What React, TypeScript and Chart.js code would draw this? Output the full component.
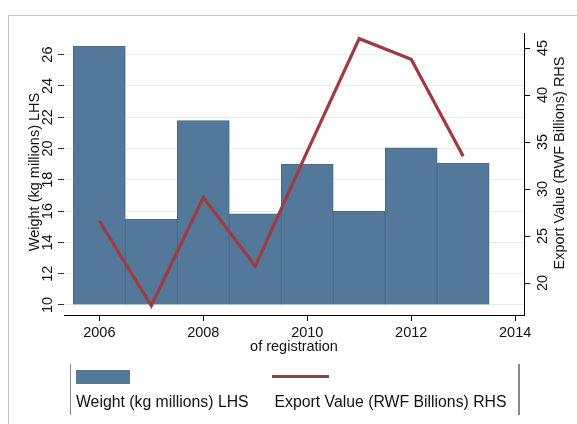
import React, { useEffect, useRef } from "react";
import { Chart, registerables } from "chart.js";

Chart.register(...registerables);

// ---------- data ----------
const YEARS = [2006, 2007, 2008, 2009, 2010, 2011, 2012, 2013];
const WEIGHT = [26.55, 15.47, 21.78, 15.83, 19.0, 16.0, 20.05, 19.05];
const EXPORT_VALUE = [26.6, 17.6, 29.1, 21.8, 34.0, 46.0, 43.8, 33.5];
const X_TICKS = [2006, 2008, 2010, 2012, 2014];
const LEFT_TICKS = [10, 12, 14, 16, 18, 20, 22, 24, 26];
const RIGHT_TICKS = [20, 25, 30, 35, 40, 45];
const BAR_BASE = 10;
const WEIGHT_LABEL = "Weight (kg millions) LHS";
const VALUE_LABEL = "Export Value (RWF Billions) RHS";
const X_TITLE = "of registration";

// ---------- styles ----------
const FONT = "'Liberation Sans', Arial, sans-serif";
const BAR_COLOR = "#537899";
const BAR_EDGE = "#476c8f";
const LINE_COLOR = "#9e3a44";
const TEXT_COLOR = "#111111";
const W = 577;
const H = 424;

const axisTitlesPlugin = {
  id: "axisTitles",
  afterDraw(chart: any) {
    const { ctx, chartArea } = chart;
    const { left, right, top, bottom } = chartArea;
    const midY = (top + bottom) / 2;
    ctx.save();
    ctx.fillStyle = TEXT_COLOR;
    ctx.font = `14.5px ${FONT}`;
    ctx.textAlign = "center";
    ctx.textBaseline = "middle";
    ctx.fillText(X_TITLE, (left + right) / 2, bottom + 31.5);
    ctx.save();
    ctx.translate(left - 29, midY - 2);
    ctx.rotate(-Math.PI / 2);
    ctx.fillText(WEIGHT_LABEL, 0, 0);
    ctx.restore();
    ctx.save();
    ctx.translate(right + 36, midY - 11);
    ctx.rotate(-Math.PI / 2);
    ctx.fillText(VALUE_LABEL, 0, 0);
    ctx.restore();
    ctx.restore();
  },
};

export default function App() {
  const canvasRef = useRef<HTMLCanvasElement | null>(null);

  useEffect(() => {
    const canvas = canvasRef.current;
    if (!canvas) return;
    const chart = new Chart(canvas, {
      type: "bar",
      data: {
        datasets: [
          {
            type: "line",
            label: VALUE_LABEL,
            data: YEARS.map((y, i) => ({ x: y, y: EXPORT_VALUE[i] })),
            borderColor: LINE_COLOR,
            backgroundColor: LINE_COLOR,
            borderWidth: 3.2,
            pointRadius: 0,
            tension: 0,
            xAxisID: "x",
            yAxisID: "y1",
            order: 0,
          } as any,
          {
            type: "bar",
            label: WEIGHT_LABEL,
            data: YEARS.map((y, i) => ({ x: y, y: WEIGHT[i] })),
            backgroundColor: BAR_COLOR,
            borderColor: BAR_EDGE,
            borderWidth: 1,
            base: BAR_BASE,
            barPercentage: 1,
            categoryPercentage: 1,
            xAxisID: "x",
            yAxisID: "y",
            order: 1,
          } as any,
        ],
      },
      options: {
        responsive: false,
        animation: false,
        devicePixelRatio: 1,
        layout: { padding: { top: 33, left: 0, right: 0, bottom: 0 } },
        plugins: {
          legend: { display: false },
          tooltip: { enabled: false },
          title: { display: false },
        },
        scales: {
          x: {
            type: "linear",
            position: "bottom",
            offset: false,
            min: 2005.32,
            max: 2014.17,
            afterBuildTicks: (axis: any) => {
              axis.ticks = X_TICKS.map((v) => ({ value: v }));
            },
            afterFit: (axis: any) => {
              axis.height = 109;
            },
            grid: {
              offset: false,
              drawOnChartArea: false,
              drawTicks: true,
              tickLength: 6,
              tickColor: "#000",
              tickWidth: 1,
            },
            border: { display: true, color: "#000", width: 1 },
            ticks: {
              padding: 3,
              color: TEXT_COLOR,
              font: { family: FONT, size: 14.5 },
              maxRotation: 0,
              minRotation: 0,
              autoSkip: false,
              callback: (v: any) => String(v),
            },
          },
          y: {
            type: "linear",
            position: "left",
            min: 9.36,
            max: 27.38,
            afterBuildTicks: (axis: any) => {
              axis.ticks = LEFT_TICKS.map((v) => ({ value: v }));
            },
            afterFit: (axis: any) => {
              axis.width = 64;
            },
            grid: {
              drawOnChartArea: true,
              color: "#e8eff1",
              lineWidth: 1,
              drawTicks: true,
              tickLength: 6,
              tickColor: "#333",
            },
            border: { display: false },
            ticks: {
              padding: 1.5,
              crossAlign: "center",
              minRotation: 90,
              maxRotation: 90,
              autoSkip: false,
              color: TEXT_COLOR,
              font: { family: FONT, size: 14.5 },
              callback: (v: any) => String(v),
            },
          },
          y1: {
            type: "linear",
            position: "right",
            min: 16.6,
            max: 46.6,
            afterBuildTicks: (axis: any) => {
              axis.ticks = RIGHT_TICKS.map((v) => ({ value: v }));
            },
            afterFit: (axis: any) => {
              axis.width = 53;
            },
            grid: {
              drawOnChartArea: false,
              drawTicks: true,
              tickLength: 6,
              tickColor: "#000",
            },
            border: { display: true, color: "#000", width: 1 },
            ticks: {
              padding: 5,
              crossAlign: "center",
              minRotation: 90,
              maxRotation: 90,
              autoSkip: false,
              color: TEXT_COLOR,
              font: { family: FONT, size: 14.5 },
              callback: (v: any) => String(v),
            },
          },
        },
      } as any,
      plugins: [axisTitlesPlugin],
    });
    return () => chart.destroy();
  }, []);

  const legendText: React.CSSProperties = {
    position: "absolute",
    top: 393,
    fontFamily: FONT,
    fontSize: "15.8px",
    lineHeight: "18px",
    color: TEXT_COLOR,
    whiteSpace: "nowrap",
  };

  return (
    <div
      style={{
        position: "fixed",
        left: 0,
        top: 0,
        width: W,
        height: H,
        overflow: "hidden",
        background: "#fff",
      }}
    >
      <div
        style={{
          position: "absolute",
          left: 8,
          top: 15,
          width: 700,
          height: 600,
          borderLeft: "1px solid #c4c4c4",
          borderTop: "1px solid #c4c4c4",
        }}
      />
      <canvas
        ref={canvasRef}
        width={W}
        height={H}
        style={{ position: "absolute", left: 0, top: 0, display: "block", width: W, height: H }}
      />
      {/* legend */}
      <div style={{ position: "absolute", left: 69.5, top: 364, width: 1.5, height: 51, background: "#8a8a8a" }} />
      <div style={{ position: "absolute", left: 518, top: 364, width: 1.5, height: 51, background: "#8a8a8a" }} />
      <div style={{ position: "absolute", left: 76, top: 370, width: 54, height: 13.5, background: BAR_COLOR }} />
      <div style={{ position: "absolute", left: 272, top: 375, width: 57, height: 3.3, background: LINE_COLOR }} />
      <div style={{ ...legendText, left: 76 }}>{WEIGHT_LABEL}</div>
      <div style={{ ...legendText, left: 274.5 }}>{VALUE_LABEL}</div>
    </div>
  );
}
